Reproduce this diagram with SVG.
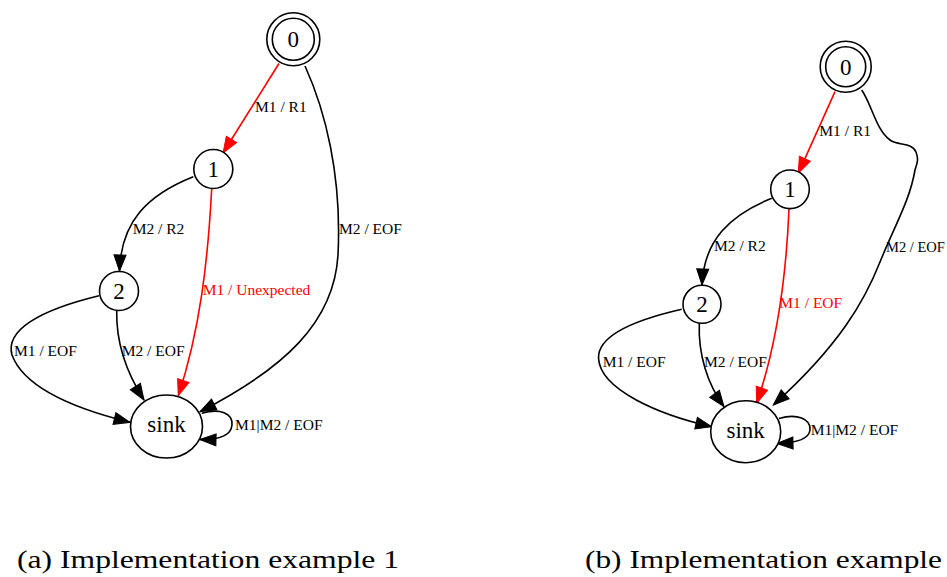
<svg xmlns="http://www.w3.org/2000/svg" width="947" height="577" viewBox="0 0 947 577">
<defs>
<style>
.node{fill:#fff;stroke:#000;stroke-width:1.6}
.nl{font-family:"Liberation Serif","Times New Roman",serif;font-size:23px;text-anchor:middle;fill:#000}
.e{fill:none;stroke:#000;stroke-width:1.6}
.er{fill:none;stroke:#f00;stroke-width:1.6}
.el{font-family:"Liberation Serif","Times New Roman",serif;font-size:15.5px;fill:#000}
.elr{font-family:"Liberation Serif","Times New Roman",serif;font-size:15.5px;fill:#f00}
.cap{font-family:"Liberation Serif","Times New Roman",serif;font-size:24.5px;fill:#000}
</style>
<marker id="ab" markerUnits="userSpaceOnUse" markerWidth="18" markerHeight="14" viewBox="-1 -1 18 14" refX="16" refY="6" orient="auto">
<path d="M0,0 L16,6 L0,12 z" fill="#000" stroke="#000" stroke-width="1"/>
</marker>
<marker id="ar" markerUnits="userSpaceOnUse" markerWidth="18" markerHeight="14" viewBox="-1 -1 18 14" refX="16" refY="6" orient="auto">
<path d="M0,0 L16,6 L0,12 z" fill="#f00" stroke="#f00" stroke-width="1"/>
</marker>
</defs>
<rect width="947" height="577" fill="#fff"/>

<!-- Diagram (a) -->
<g id="a-edges">
<path class="er" d="M279,63.5 L223,153" marker-end="url(#ar)"/>
<text class="el" x="255" y="112">M1 / R1</text>
<path class="e" d="M305,66 C325,110 342,175 338,255 C334,322 285,368 200,411.7" marker-end="url(#ab)"/>
<text class="el" x="339" y="234">M2 / EOF</text>
<path class="e" d="M193.3,176.7 C147,195 121,222 119.5,271" marker-end="url(#ab)"/>
<text class="el" x="132.7" y="234">M2 / R2</text>
<path class="er" d="M211.7,188.5 C208,260 200,330 178.3,395.7" marker-end="url(#ar)"/>
<text class="elr" x="202.7" y="295">M1 / Unexpected</text>
<path class="e" d="M99,295.7 C40,310 5,330 12,355 C25,390 80,410 130,422.3" marker-end="url(#ab)"/>
<text class="el" x="14" y="356">M1 / EOF</text>
<path class="e" d="M116.7,311 C116,345 128,375 144,400" marker-end="url(#ab)"/>
<text class="el" x="121.7" y="356">M2 / EOF</text>
<path class="e" d="M201.7,413.3 C220,408 233,413 232,425 C231,436 220,440 200,439.5" marker-end="url(#ab)"/>
<text class="el" x="235" y="430">M1|M2 / EOF</text>
</g>
<g id="a-n0">
<circle class="node" cx="293.3" cy="39.3" r="26.5"/>
<circle class="node" cx="293.3" cy="39.3" r="21"/>
<text class="nl" x="293.3" y="47">0</text>
</g>
<g id="a-n1">
<circle class="node" cx="213.3" cy="169" r="19.5"/>
<text class="nl" x="213.3" y="177">1</text>
</g>
<g id="a-n2">
<circle class="node" cx="119" cy="291" r="19.5"/>
<text class="nl" x="119" y="299">2</text>
</g>
<g id="a-sink">
<ellipse class="node" cx="166.5" cy="426.5" rx="36" ry="31.5"/>
<text class="nl" x="166.5" y="432">sink</text>
</g>

<!-- Diagram (b) -->
<g id="b-edges">
<path class="er" d="M835,91.7 L798.3,173.3" marker-end="url(#ar)"/>
<text class="el" x="819.3" y="136">M1 / R1</text>
<path class="e" d="M861.7,90 C872,105 876,130 890,140 C898,146 912,142 916,152 C919,160 917,163 915,170 C910,200 895,225 880,262 C865,300 840,345 773.3,405" marker-end="url(#ab)"/>
<text class="el" x="886" y="251.7" style="font-size:14.5px">M2 / EOF</text>
<path class="e" d="M771.7,198.3 C730,215 704,240 702,285" marker-end="url(#ab)"/>
<text class="el" x="714" y="250.7">M2 / R2</text>
<path class="er" d="M789,209 C786,280 775,350 756.7,403.3" marker-end="url(#ar)"/>
<text class="elr" x="779.3" y="308.3">M1 / EOF</text>
<path class="e" d="M681.7,309.3 C635,320 598,335 598.5,358 C600,390 660,415 711.7,426.7" marker-end="url(#ab)"/>
<text class="el" x="602.7" y="366.7">M1 / EOF</text>
<path class="e" d="M699.3,323.3 C698,355 708,385 724,406.7" marker-end="url(#ab)"/>
<text class="el" x="704" y="366.7">M2 / EOF</text>
<path class="e" d="M779,418.5 C797,413 811,419 810,430 C809,439 797,443 777,443.5" marker-end="url(#ab)"/>
<text class="el" x="810.7" y="435">M1|M2 / EOF</text>
</g>
<g id="b-n0">
<circle class="node" cx="845.7" cy="66.7" r="25.5"/>
<circle class="node" cx="845.7" cy="66.7" r="20"/>
<text class="nl" x="845.7" y="74.5">0</text>
</g>
<g id="b-n1">
<circle class="node" cx="790" cy="189.3" r="19.3"/>
<text class="nl" x="790" y="197">1</text>
</g>
<g id="b-n2">
<circle class="node" cx="702" cy="304.3" r="19"/>
<text class="nl" x="702" y="312">2</text>
</g>
<g id="b-sink">
<ellipse class="node" cx="745.7" cy="431.7" rx="35" ry="31"/>
<text class="nl" x="745.7" y="437.5">sink</text>
</g>

<g id="captions">
<text class="cap" x="17" y="568.3" textLength="382" lengthAdjust="spacingAndGlyphs">(a) Implementation example 1</text>
<text class="cap" x="585" y="568.3" textLength="357" lengthAdjust="spacingAndGlyphs">(b) Implementation example</text>
</g>
</svg>
